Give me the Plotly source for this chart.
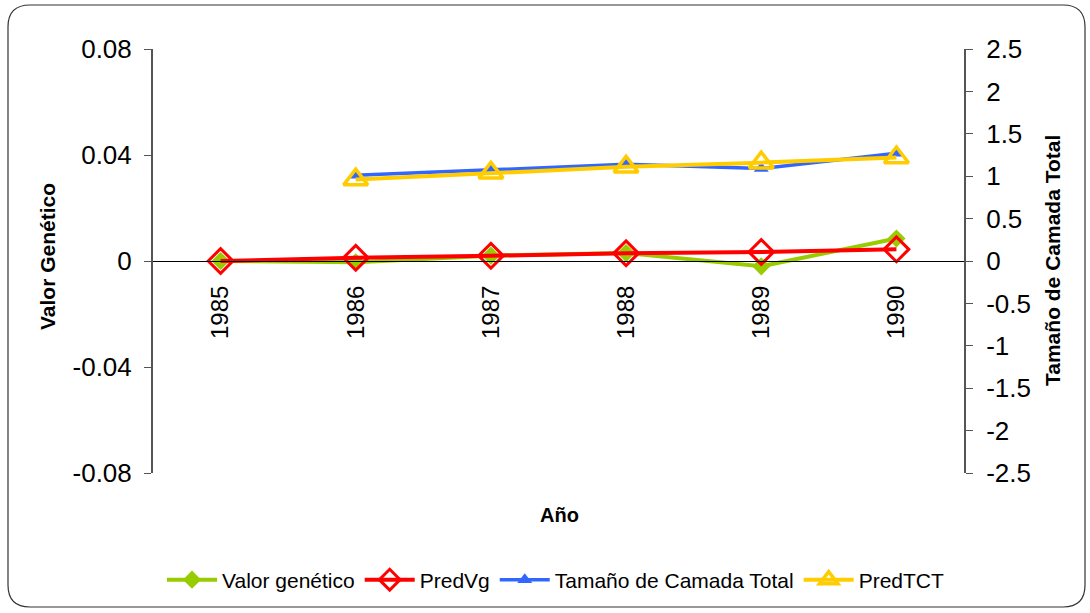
import plotly.graph_objects as go

# Years and series values
years = ["1985", "1986", "1987", "1988", "1989", "1990"]
valor_genetico = [0.0, -0.0005, 0.002, 0.003, -0.002, 0.0085]
pred_vg = [0.0, 0.0012, 0.002, 0.0029, 0.0034, 0.0044]
tamano_camada = [None, 1.01, 1.08, 1.14, 1.09, 1.27]
pred_tct = [None, 0.96, 1.04, 1.11, 1.16, 1.22]

left_ticks = [0.08, 0.04, 0, -0.04, -0.08]
left_ticktext = ["0.08", "0.04", "0", "-0.04", "-0.08"]
right_ticks = [2.5, 2, 1.5, 1, 0.5, 0, -0.5, -1, -1.5, -2, -2.5]
right_ticktext = ["2.5", "2", "1.5", "1", "0.5", "0", "-0.5", "-1", "-1.5", "-2", "-2.5"]

FONT = "Arial, Liberation Sans, sans-serif"
W, H = 1090, 613
L, R, T, B = 153, 126, 49, 140
PW, PH = W - L - R, H - T - B


def px_x(x):
    return (x - L) / PW


def px_y(y):
    return (H - B - y) / PH


idx = list(range(len(years)))

fig = go.Figure()
fig.add_trace(go.Scatter(
    x=idx, y=valor_genetico, name="Valor genético", mode="lines+markers",
    line=dict(color="#99CC00", width=4),
    marker=dict(symbol="diamond", size=14, color="#99CC00"),
))
fig.add_trace(go.Scatter(
    x=idx, y=pred_vg, name="PredVg", mode="lines+markers",
    line=dict(color="#FF0000", width=4),
    marker=dict(symbol="diamond-open", size=19, color="#FF0000", line=dict(width=3)),
))
fig.add_trace(go.Scatter(
    x=idx, y=tamano_camada, name="Tamaño de Camada Total", mode="lines+markers",
    yaxis="y2", line=dict(color="#3366FF", width=3.5),
    marker=dict(symbol="triangle-up", size=13, color="#3366FF"),
))
fig.add_trace(go.Scatter(
    x=idx, y=pred_tct, name="PredTCT", mode="lines+markers",
    yaxis="y2", line=dict(color="#FFCC00", width=4),
    marker=dict(symbol="triangle-up-open", size=21, color="#FFCC00", line=dict(width=3.5)),
))

# Rounded outer frame (paper coordinates)
x0, x1 = px_x(8), px_x(1085)
y0, y1 = px_y(607), px_y(5)
rx, ry = 22 / PW, 22 / PH
frame = (
    f"M {x0 + rx},{y1} L {x1 - rx},{y1} Q {x1},{y1} {x1},{y1 - ry} "
    f"L {x1},{y0 + ry} Q {x1},{y0} {x1 - rx},{y0} "
    f"L {x0 + rx},{y0} Q {x0},{y0} {x0},{y0 + ry} "
    f"L {x0},{y1 - ry} Q {x0},{y1} {x0 + rx},{y1} Z"
)

fig.update_layout(
    width=W, height=H,
    margin=dict(l=L, r=R, t=T, b=B),
    paper_bgcolor="white", plot_bgcolor="white",
    font=dict(family=FONT, size=21, color="black"),
    showlegend=True,
    legend=dict(
        orientation="h", x=px_x(556), xanchor="center", y=px_y(580), yanchor="middle",
        font=dict(size=21), bgcolor="rgba(0,0,0,0)", itemwidth=50,
        traceorder="normal",
    ),
    xaxis=dict(
        range=[-0.5, len(years) - 0.5],
        tickvals=idx, ticktext=years, tickangle=-90,
        anchor="free", position=0.5,
        showline=True, linecolor="black", linewidth=1,
        showgrid=False, zeroline=False, ticks="",
        ticklabelstandoff=14,
        tickfont=dict(size=24),
    ),
    yaxis=dict(
        range=[-0.08, 0.08], tickvals=left_ticks, ticktext=left_ticktext,
        showgrid=False, zeroline=False,
        showline=True, linecolor="#555555", linewidth=2,
        ticks="outside", ticklen=7, tickcolor="#555555", tickwidth=1,
        ticklabelstandoff=7,
        tickfont=dict(size=26),
    ),
    yaxis2=dict(
        range=[-2.5, 2.5], tickvals=right_ticks, ticktext=right_ticktext,
        overlaying="y", side="right",
        showgrid=False, zeroline=False,
        showline=True, linecolor="#555555", linewidth=2,
        ticks="outside", ticklen=7, tickcolor="#555555", tickwidth=1,
        ticklabelstandoff=8,
        tickfont=dict(size=26),
    ),
    shapes=[dict(
        type="path", xref="paper", yref="paper", path=frame,
        line=dict(color="#333333", width=1.2), fillcolor="rgba(0,0,0,0)",
        layer="below",
    )],
    annotations=[
        dict(text="<b>Valor Genético</b>", xref="paper", yref="paper",
             x=px_x(47), y=px_y(257), textangle=-90, showarrow=False,
             font=dict(size=21), xanchor="center", yanchor="middle"),
        dict(text="<b>Tamaño de Camada Total</b>", xref="paper", yref="paper",
             x=px_x(1052), y=px_y(261), textangle=-90, showarrow=False,
             font=dict(size=21), xanchor="center", yanchor="middle"),
        dict(text="<b>Año</b>", xref="paper", yref="paper",
             x=px_x(559), y=px_y(515), showarrow=False,
             font=dict(size=20), xanchor="center", yanchor="middle"),
    ],
)

fig.write_html("out.html")
